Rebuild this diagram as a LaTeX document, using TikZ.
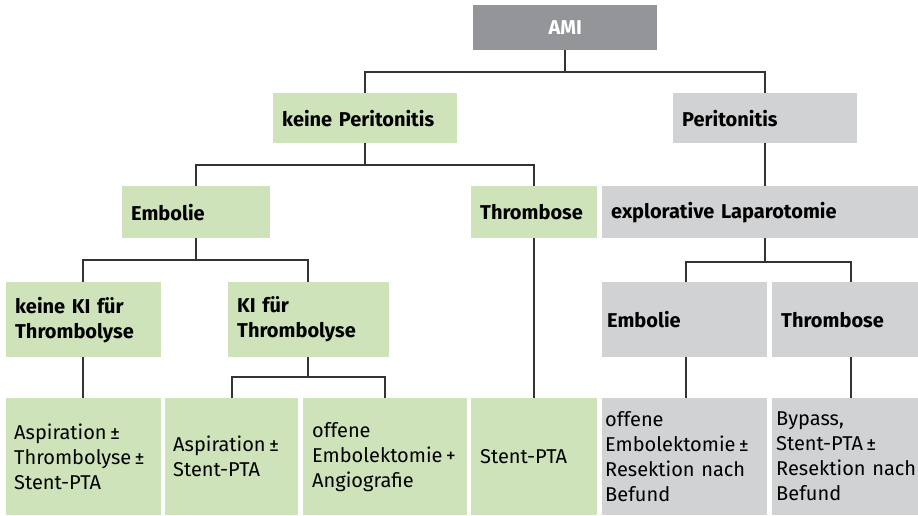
\documentclass[tikz,border=0pt]{standalone}
\usepackage{fontspec}
\setmainfont{Fira Sans}
\definecolor{gfill}{HTML}{CFE3BA}
\definecolor{yfill}{HTML}{D1D2D4}
\definecolor{afill}{HTML}{939598}
\definecolor{lcol}{HTML}{333333}
\tikzset{
  bx/.style={anchor=north west, inner xsep=9pt, inner ysep=0pt, align=left,
    font=\fontsize{20}{25}\selectfont, text=black},
  grn/.style={bx, fill=gfill},
  gry/.style={bx, fill=yfill},
  hd/.style={font=\fontsize{20}{25}\selectfont\bfseries},
  conn/.style={draw=lcol, line width=1.3pt},
}
\begin{document}
\begin{tikzpicture}[x=1pt,y=-1pt]
\useasboundingbox (0,0) rectangle (918,515);
% level 0
\node[bx, fill=afill, text=white, hd, minimum width=184pt, minimum height=45pt, text width=166pt, align=center] (ami) at (473,5) {AMI};
% level 1
\node[grn, hd, minimum width=184pt, minimum height=50pt, text width=166pt] (kp) at (273,93) {keine Peritonitis};
\node[gry, hd, minimum width=184pt, minimum height=50pt, text width=166pt] (p) at (673,93) {Peritonitis};
% level 2
\node[grn, hd, minimum width=148pt, minimum height=52pt, text width=130pt] (emb) at (122,186) {Embolie};
\node[grn, hd, minimum width=126pt, minimum height=52pt, text width=108pt] (thr) at (471,186) {Thrombose};
\node[gry, hd, minimum width=316pt, minimum height=52pt, text width=298pt] (lap) at (602,186) {explorative Laparotomie};
% level 3
\node[grn, hd, minimum width=155pt, minimum height=75pt, text width=137pt] (kki) at (6,282) {keine KI für\\Thrombolyse};
\node[grn, hd, minimum width=161pt, minimum height=75pt, text width=143pt] (ki) at (228,282) {KI für\\Thrombolyse};
\node[gry, hd, inner xsep=5pt, minimum width=165pt, minimum height=75pt, text width=155pt] (gemb) at (602,282) {Embolie};
\node[gry, hd, inner xsep=9pt, minimum width=146pt, minimum height=75pt, text width=128pt] (gthr) at (772,282) {Thrombose};
% level 4
\node[grn, inner xsep=8pt, minimum width=155pt, minimum height=117pt, text width=139pt] (b1) at (6,398) {Aspiration\,±\\Thrombolyse\,±\\Stent-PTA};
\node[grn, inner xsep=8pt, minimum width=133pt, minimum height=117pt, text width=117pt] (b2) at (165,398) {Aspiration\,±\\Stent-PTA};
\node[grn, minimum width=164pt, minimum height=117pt, text width=146pt] (b3) at (303,398) {offene\\Embolektomie\,+\\Angiografie};
\node[grn, minimum width=126pt, minimum height=117pt, text width=108pt] (b4) at (471,398) {Stent-PTA};
\node[gry, inner xsep=3pt, minimum width=165pt, minimum height=117pt, text width=159pt] (b5) at (602,398) {offene\\Embolektomie\,±\\\mbox{Resektion nach}\\Befund};
\node[gry, inner xsep=4pt, minimum width=146pt, minimum height=117pt, text width=138pt] (b6) at (772,398) {Bypass,\\Stent-PTA\,±\\\mbox{Resektion nach}\\Befund};
% connectors
\coordinate (j0) at (565,72);
\coordinate (j1) at (365,165);
\coordinate (j2) at (196,260);
\coordinate (j3) at (308,377);
\coordinate (j4) at (765,262);
\draw[conn] (ami.south -| j0) -- (j0);
\draw[conn] (kp.north -| j1) |- (j0) -| (p.north -| 765,0);
\draw[conn] (kp.south -| j1) -- (j1);
\draw[conn] (emb.north -| j2) |- (j1) -| (thr.north -| 534,0);
\draw[conn] (p.south -| 765,0) -- (lap.north -| 765,0);
\draw[conn] (lap.south -| j4) -- (j4);
\draw[conn] (gemb.north -| 686,0) |- (j4) -| (gthr.north -| 851,0);
\draw[conn] (emb.south -| j2) -- (j2);
\draw[conn] (kki.north -| 83,0) |- (j2) -| (ki.north -| j3);
\draw[conn] (ki.south -| j3) -- (j3);
\draw[conn] (b2.north -| 232,0) |- (j3) -| (b3.north -| 385,0);
\draw[conn] (kki.south -| 83,0) -- (b1.north -| 83,0);
\draw[conn] (thr.south -| 534,0) -- (b4.north -| 534,0);
\draw[conn] (gemb.south -| 686,0) -- (b5.north -| 686,0);
\draw[conn] (gthr.south -| 851,0) -- (b6.north -| 851,0);
\end{tikzpicture}
\end{document}
